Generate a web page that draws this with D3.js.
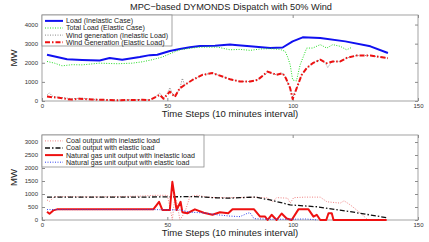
<!DOCTYPE html>
<html>
<head>
<meta charset="utf-8">
<script src="https://cdn.jsdelivr.net/npm/d3@7"></script>
<style>
  body { margin: 0; background: #fff; }
  svg { display: block; font-family: "Liberation Sans", Arial, sans-serif; }
  .axis path, .axis line { stroke: #8c8c8c; }
  .axis text { fill: #333; font-size: 6px; }
</style>
</head>
<body>
<div id="chart"></div>
<script>
const title = "MPC\u2212based DYMONDS Dispatch with 50% Wind";
const xLabel = "Time Steps (10 minutes interval)";
const xTicks = [0, 50, 100, 150];
const topTicks = [0, 1000, 2000, 3000, 4000];
const bottomTicks = [0, 500, 1000, 1500, 2000, 2500, 3000];

// top panel
const loadSteps = [2, 6, 10, 16, 23, 27, 32, 39, 43, 46, 51, 55, 59, 63, 69, 75, 77, 83, 91, 96, 100, 104, 111, 121, 131, 138];
const loadValues = [2420, 2300, 2190, 2150, 2120, 2250, 2160, 2300, 2400, 2420, 2620, 2720, 2810, 2880, 2890, 2950, 2930, 2860, 2770, 2800, 3120, 3330, 3300, 3120, 2860, 2510];

const totalSteps = [2, 5, 8, 12, 16, 23, 30, 36, 40, 44, 48, 51, 55, 59, 63, 70, 75, 79, 83, 87, 91, 95, 97, 98, 99, 100, 101.5, 103, 105.6, 108, 111, 113.6, 116, 119, 121.5, 123.5];
const totalValues = [2070, 1980, 1840, 1900, 1890, 1980, 1950, 1980, 2050, 2160, 2300, 2470, 2680, 2760, 2820, 2820, 2680, 2700, 2650, 2720, 2740, 2700, 2600, 2300, 1900, 1100, 1050, 1900, 2770, 2770, 2950, 2770, 2950, 2860, 2680, 2800];

const windInelSteps = [2, 3, 4, 6, 8, 12, 16, 20, 25, 30, 35, 40, 43, 45, 47, 48.5, 50, 51, 52.5, 54, 55, 56, 57, 58, 60, 64, 68, 72, 75, 79, 83, 86, 90, 93.6, 96, 97.3, 99, 100, 101.6, 103.6, 105.6, 108, 111, 113, 114, 115, 116, 119, 121.5, 125.5, 131, 138];
const windInelValues = [300, 430, 260, 200, 180, 120, 150, 90, 60, 50, 70, 80, 60, 180, 420, 150, 400, 700, 250, 450, 650, 1190, 800, 950, 1100, 1370, 1460, 1280, 1140, 1020, 1020, 1120, 1500, 1370, 1450, 1190, 670, 200, 670, 1370, 1720, 1980, 2160, 2000, 1750, 1950, 2070, 2070, 2250, 2380, 2380, 2240];

const windElSteps = [2, 4, 6, 8, 10, 12, 15, 20, 25, 30, 35, 40, 43, 47, 48.5, 51, 53, 55, 58, 60, 64, 68, 72, 75, 79, 83, 86, 90, 93.6, 96, 97.3, 99, 100, 101.6, 103.6, 105.6, 108, 111, 113.6, 116, 119, 121.5, 125.5, 131, 138];
const windElValues = [230, 200, 180, 150, 100, 80, 120, 80, 60, 40, 50, 60, 50, 320, 120, 490, 220, 670, 930, 1100, 1370, 1460, 1280, 1140, 1020, 1020, 1100, 1540, 1370, 1450, 1190, 670, 100, 670, 1370, 1720, 1980, 2160, 1980, 2070, 2070, 2250, 2380, 2380, 2240];

// bottom panel
const coalInelSteps = [2, 3, 5, 10, 20, 30, 40, 45, 50, 51, 52, 53, 54, 55, 57, 59, 62, 66, 70, 75, 80, 85, 90, 92, 93.6, 98, 99, 100.4, 105, 111, 113.7, 119, 120.5, 123, 127.5, 130];
const coalInelValues = [770, 720, 900, 900, 890, 900, 920, 950, 950, 500, 0, 900, 600, 0, 300, 900, 950, 880, 860, 860, 870, 880, 850, 700, 860, 840, 650, 860, 880, 880, 700, 650, 740, 580, 230, 0];

const coalElSteps = [2, 10, 20, 30, 40, 50, 60, 65, 70, 75, 79, 85, 91, 99, 109.6, 123, 137.5];
const coalElValues = [880, 880, 880, 880, 880, 890, 900, 880, 850, 840, 860, 880, 770, 580, 510, 320, 90];

const gasInelSteps = [2, 3, 4.5, 6, 20, 44.4, 46.7, 48, 51, 52, 53.7, 55.3, 56, 58, 61, 64.5, 68, 71, 74.3, 76, 84.6, 87, 89, 90, 91.6, 93.6, 95.6, 97.6, 99.6, 102.3, 106.3, 108.3, 109.6, 111, 113.4, 114.3, 115.6, 116.3, 137.5];
const gasInelValues = [320, 240, 370, 410, 410, 410, 700, 385, 385, 1470, 385, 700, 300, 260, 410, 280, 200, 300, 258, 410, 410, 130, 130, 0, 200, 0, 250, 60, 0, 410, 410, 130, 200, 0, 0, 260, 260, 0, 0];

const gasElSteps = [2, 10, 20, 30, 40, 45, 50, 55, 59, 65, 70, 75, 79, 82, 83, 84.6, 90, 100, 105, 108, 110];
const gasElValues = [400, 400, 400, 400, 400, 400, 390, 390, 300, 270, 200, 150, 130, 260, 280, 50, 30, 30, 40, 20, 0];

const topLegend = ["Load (Inelastic Case)", "Total Load (Elastic Case)", "Wind generation (Inelastic Load)", "Wind Generation (Elastic Load)"];
const bottomLegend = ["Coal output with inelastic load", "Coal output with elastic load", "Natural gas unit output with inelastic load", "Natural gas unit output with elastic load"];

const W = 429, H = 242;
const svg = d3.select("#chart").append("svg").attr("width", W).attr("height", H);

const x = d3.scaleLinear().domain([0, 150]).range([42, 418]);
const fmt = d3.format("d");

function zip(steps, values) {
  return steps.map((s, i) => [s, values[i]]);
}

function panel(top, bottom, yMax, ticks, series, legendNames, legendW, legendH) {
  const y = d3.scaleLinear().domain([0, yMax]).range([bottom, top]);
  const g = svg.append("g");

  g.append("rect")
    .attr("x", x(0)).attr("y", top)
    .attr("width", x(150) - x(0)).attr("height", bottom - top)
    .attr("fill", "none").attr("stroke", "#8c8c8c").attr("stroke-width", 0.8);

  g.append("g").attr("class", "axis")
    .attr("transform", `translate(0,${bottom})`)
    .call(d3.axisBottom(x).tickValues(xTicks).tickFormat(fmt).tickSizeInner(-3).tickSizeOuter(0).tickPadding(3))
    .call((a) => a.select(".domain").remove());
  g.append("g").attr("class", "axis")
    .attr("transform", `translate(0,${top})`)
    .call(d3.axisTop(x).tickValues(xTicks).tickSizeInner(-3).tickSizeOuter(0).tickFormat(""))
    .call((a) => a.select(".domain").remove());
  g.append("g").attr("class", "axis")
    .attr("transform", `translate(${x(0)},0)`)
    .call(d3.axisLeft(y).tickValues(ticks).tickFormat(fmt).tickSizeInner(-3).tickSizeOuter(0).tickPadding(4))
    .call((a) => a.select(".domain").remove());
  g.append("g").attr("class", "axis")
    .attr("transform", `translate(${x(150)},0)`)
    .call(d3.axisRight(y).tickValues(ticks).tickSizeInner(-3).tickSizeOuter(0).tickFormat(""))
    .call((a) => a.select(".domain").remove());

  const line = d3.line().x((d) => x(d[0])).y((d) => y(d[1]));
  series.forEach((s) => {
    g.append("path")
      .datum(s.data)
      .attr("fill", "none")
      .attr("stroke", s.color)
      .attr("stroke-width", s.width)
      .attr("stroke-dasharray", s.dash)
      .attr("stroke-linejoin", "round")
      .attr("d", line);
  });

  // legend
  const lg = g.append("g").attr("transform", `translate(${x(0)},${top})`);
  lg.append("rect").attr("width", legendW).attr("height", legendH)
    .attr("fill", "#fff").attr("stroke", "#8c8c8c").attr("stroke-width", 0.8);
  legendNames.forEach((name, i) => {
    const s = series[i];
    const ly = 5.9 + i * 7.1;
    lg.append("line")
      .attr("x1", 3).attr("x2", 21).attr("y1", ly).attr("y2", ly)
      .attr("stroke", s.color).attr("stroke-width", s.width).attr("stroke-dasharray", s.dash);
    lg.append("text")
      .attr("x", 24).attr("y", ly).attr("dy", "0.35em")
      .attr("font-size", 7.1).attr("fill", "#222")
      .text(name);
  });

  svg.append("text")
    .attr("transform", `translate(17,${(top + bottom) / 2}) rotate(-90)`)
    .attr("text-anchor", "middle").attr("font-size", 9.5).attr("fill", "#222")
    .text("MW");

  svg.append("text")
    .attr("x", 230).attr("y", bottom + 16)
    .attr("text-anchor", "middle").attr("font-size", 9.5).attr("fill", "#222")
    .text(xLabel);
}

svg.append("text")
  .attr("x", 231).attr("y", 10)
  .attr("text-anchor", "middle").attr("font-size", 9.2).attr("fill", "#222")
  .text(title);

panel(15, 101, 4500, topTicks, [
  { data: zip(loadSteps, loadValues), color: "#1010f0", width: 2, dash: null },
  { data: zip(totalSteps, totalValues), color: "#22dd22", width: 1, dash: "1,1.5" },
  { data: zip(windInelSteps, windInelValues), color: "#888", width: 1, dash: "1,1.5" },
  { data: zip(windElSteps, windElValues), color: "#ee1111", width: 2, dash: "5,2,1.5,2" }
], topLegend, 130, 31);

panel(135, 220, 3270, bottomTicks, [
  { data: zip(coalInelSteps, coalInelValues), color: "#f08080", width: 1, dash: "1,1.5" },
  { data: zip(coalElSteps, coalElValues), color: "#111", width: 1.3, dash: "5,2,1.5,2" },
  { data: zip(gasInelSteps, gasInelValues), color: "#ee1111", width: 2, dash: null },
  { data: zip(gasElSteps, gasElValues), color: "#3344ee", width: 1, dash: "1,1.5" }
], bottomLegend, 162, 32);
</script>
</body>
</html>
